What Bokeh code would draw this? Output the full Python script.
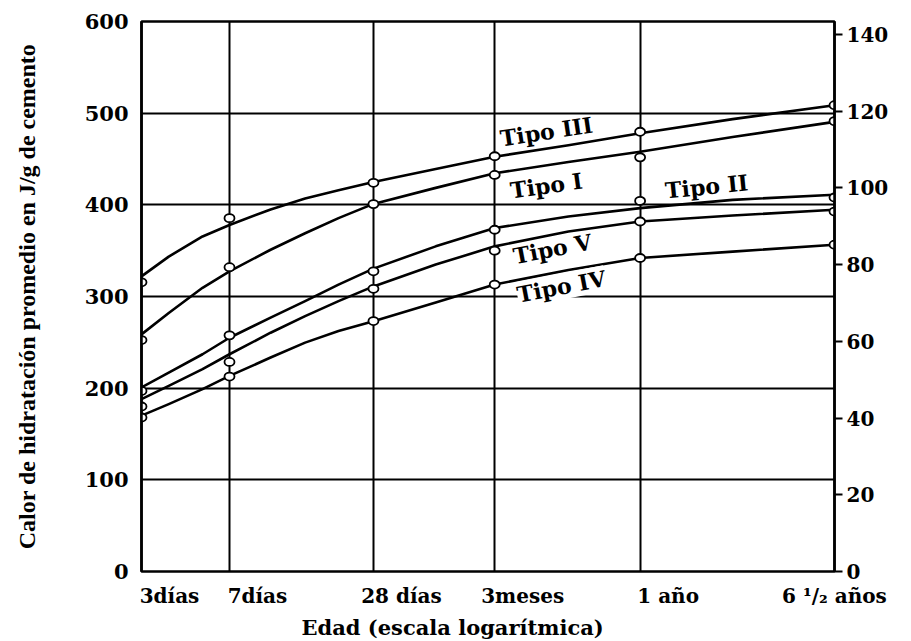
import math

from bokeh.plotting import figure
from bokeh.models import Range1d, LinearAxis, LogAxis, LogScale, FixedTicker, Label, Title
from bokeh.embed import file_html
from bokeh.resources import INLINE

# Edades de ensayo (días) y sus rótulos
edades = [3, 7, 28, 90, 365, 2372.5]
etiquetas_edad = ["3días", "7días", "28 días", "3meses", "1 año", "6 ¹/₂ años"]

# Calor de hidratación medido (J/g de cemento) en cada edad
tipo_I = [252.5, 332.0, 400.8, 432.6, 451.8, 491.3]
tipo_II = [197.0, 257.6, 327.5, 372.8, 404.3, 408.0]
tipo_III = [315.5, 385.5, 424.0, 453.0, 479.7, 508.7]
tipo_IV = [168.0, 212.7, 273.2, 313.0, 342.0, 356.5]
tipo_V = [180.0, 228.6, 308.4, 350.0, 381.8, 392.7]

# Curvas de tendencia trazadas (J/g)
edades_curva = [3, 3.9, 5.4, 7, 10.4, 14.5, 20, 28, 51, 90, 183, 365, 890, 2372.5]
curva_I = [258.7, 282, 309.5, 327.5, 351, 369, 385.5, 401, 418.5, 434.5, 446.7, 458, 474, 490.5]
curva_II = [200.8, 217, 237, 255, 277, 295, 313, 330.4, 354.7, 374.7, 387.3, 396.4, 405.4, 411]
curva_III = [322, 343.5, 365.5, 378, 395, 407, 416, 425, 439, 452.5, 465, 478, 493.5, 508.7]
curva_IV = [170, 182.6, 199, 213.4, 233.4, 249.7, 262.3, 273, 293.5, 313, 329, 342, 349, 356.5]
curva_V = [188, 202.5, 220.7, 237, 260.5, 278.6, 295, 311, 334.8, 354.7, 371, 381.8, 388.4, 394.6]

# Marcas de los ejes verticales
ticks_J = [0, 100, 200, 300, 400, 500, 600]
ticks_cal = [0, 20, 40, 60, 80, 100, 120, 140]
J_POR_CAL = 4.184

SERIF_ANCHA = "DejaVu Serif"
SERIF_ESTRECHA = "Liberation Serif"

ANCHO, ALTO = 911, 641
BORDE_IZQ, BORDE_DER, BORDE_SUP, BORDE_INF = 141, 77, 21, 68
X_MIN, X_MAX = 3, 2372.5

p = figure(
    width=ANCHO, height=ALTO,
    x_axis_type="log",
    x_range=Range1d(X_MIN, X_MAX),
    y_range=Range1d(0, 600),
    output_backend="svg",
    toolbar_location=None,
    min_border_left=BORDE_IZQ, min_border_right=BORDE_DER,
    min_border_top=BORDE_SUP, min_border_bottom=BORDE_INF,
)
p.extra_y_ranges = {"cal": Range1d(0, 600 / J_POR_CAL)}
p.background_fill_color = "white"
p.border_fill_color = "white"
p.outline_line_color = "black"
p.outline_line_width = 2.5

# Eje horizontal: la cuadrícula sigue las edades; los rótulos van en un eje
# logarítmico auxiliar desplazado unos píxeles a la derecha de cada línea.
p.xaxis.visible = False
p.xgrid.ticker = FixedTicker(ticks=edades)

px_por_decada = (ANCHO - BORDE_IZQ - BORDE_DER) / math.log10(X_MAX / X_MIN)
k = 10 ** (28 / px_por_decada)
rot_min, rot_max = X_MIN / k, X_MAX / k
p.extra_x_ranges = {"rotulos": Range1d(rot_min, rot_max)}
p.extra_x_scales = {"rotulos": LogScale()}

# El último rótulo queda centrado sobre el borde derecho del marco
pos_rotulos = edades[:-1] + [rot_max * 0.999]
eje_edad = LogAxis(x_range_name="rotulos", ticker=FixedTicker(ticks=pos_rotulos))
eje_edad.major_label_overrides = {v: t for v, t in zip(pos_rotulos, etiquetas_edad)}
eje_edad.axis_line_color = None
eje_edad.major_tick_line_color = None
eje_edad.minor_tick_line_color = None
eje_edad.major_label_standoff = 6
eje_edad.major_label_text_font = SERIF_ANCHA
eje_edad.major_label_text_font_style = "bold"
eje_edad.major_label_text_font_size = "20px"
eje_edad.major_label_text_color = "black"
p.add_layout(eje_edad, "below")

p.add_layout(Title(
    text="Edad (escala logarítmica)", align="left", offset=160,
    text_font=SERIF_ANCHA, text_font_style="bold",
    text_font_size="21px", text_color="black", standoff=4,
), "below")

# Eje vertical izquierdo (J/g)
p.yaxis.ticker = FixedTicker(ticks=ticks_J)
p.yaxis.axis_line_width = 2.5
p.yaxis.axis_line_color = "black"
p.yaxis.major_tick_out = 0
p.yaxis.major_tick_in = 0
p.yaxis.minor_tick_line_color = None
p.yaxis.major_label_text_font = SERIF_ANCHA
p.yaxis.major_label_text_font_style = "bold"
p.yaxis.major_label_text_font_size = "21px"
p.yaxis.major_label_text_color = "black"
p.yaxis.major_label_standoff = 13
p.yaxis.axis_label = "Calor de hidratación promedio en J/g de cemento"
p.yaxis.axis_label_text_font = SERIF_ESTRECHA
p.yaxis.axis_label_text_font_style = "bold"
p.yaxis.axis_label_text_font_size = "24px"
p.yaxis.axis_label_text_color = "black"
p.yaxis.axis_label_standoff = 42

# Eje vertical derecho (cal/g)
eje_cal = LinearAxis(y_range_name="cal", ticker=FixedTicker(ticks=ticks_cal))
eje_cal.axis_line_width = 2.5
eje_cal.major_tick_out = 8
eje_cal.major_tick_in = 0
eje_cal.major_tick_line_width = 2
eje_cal.minor_tick_line_color = None
eje_cal.major_label_standoff = 4
eje_cal.major_label_text_font = SERIF_ANCHA
eje_cal.major_label_text_font_style = "bold"
eje_cal.major_label_text_font_size = "20px"
eje_cal.major_label_text_color = "black"
p.add_layout(eje_cal, "right")

# Cuadrícula
p.grid.grid_line_color = "black"
p.grid.grid_line_width = 2
p.grid.grid_line_alpha = 1.0

# Curvas y puntos medidos
series = [
    (curva_III, tipo_III),
    (curva_I, tipo_I),
    (curva_II, tipo_II),
    (curva_V, tipo_V),
    (curva_IV, tipo_IV),
]
for curva, puntos in series:
    p.line(edades_curva, curva, line_color="black", line_width=2.6, line_join="round")
for curva, puntos in series:
    p.ellipse(x=edades, y=puntos, width=10, height=8,
              width_units="screen", height_units="screen",
              fill_color="white", line_color="black", line_width=1.8)

# Rótulos de las curvas
rotulos = [
    ("Tipo III", 148, 480, 0.15, None),
    ("Tipo I", 148, 421, 0.14, None),
    ("Tipo II", 692, 420, 0.10, None),
    ("Tipo V", 157, 352, 0.19, None),
    ("Tipo IV", 171, 311, 0.19, "white"),
]
for texto, x, y, ang, fondo in rotulos:
    p.add_layout(Label(
        x=x, y=y, text=texto, angle=ang,
        text_align="center", text_baseline="middle",
        text_font=SERIF_ANCHA, text_font_style="bold",
        text_font_size="22px", text_color="black",
        background_fill_color=fondo,
    ))

open("out.html", "w").write(file_html(p, INLINE))
